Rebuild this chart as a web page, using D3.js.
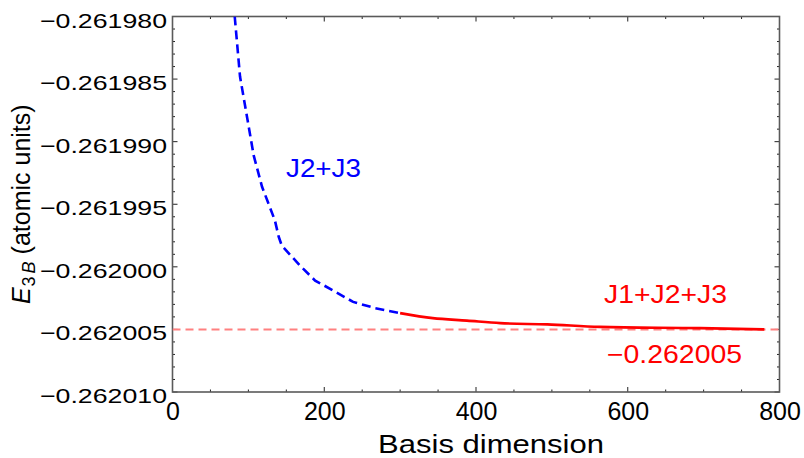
<!DOCTYPE html>
<html>
<head>
<meta charset="utf-8">
<script src="https://cdn.jsdelivr.net/npm/d3@7"></script>
<style>
  html, body { margin: 0; padding: 0; background: #fff; }
  svg { display: block; }
  text { font-family: "Liberation Sans", Arial, Helvetica, sans-serif; }
</style>
</head>
<body>
<svg id="chart" width="804" height="458"></svg>
<script>
// Convergence of the three-body energy with basis size
const j23Dim = [82, 89, 107, 118, 135, 140, 144, 168, 188, 212, 238, 267, 300];
const j23Energy = [-0.2619800, -0.2619848, -0.2619911, -0.2619936, -0.2619963, -0.2619976,
                   -0.2619983, -0.2619999, -0.2620011, -0.2620019, -0.2620028, -0.2620033, -0.2620037];
const j123Dim = [300, 343, 388, 432, 494, 563, 695, 780];
const j123Energy = [-0.2620037, -0.2620041, -0.2620043, -0.2620045, -0.2620046, -0.2620048, -0.2620049, -0.2620050];
const limitEnergy = -0.262005;
const xTicks = [0, 200, 400, 600, 800];
const yTicks = [-0.261980, -0.261985, -0.261990, -0.261995, -0.262000, -0.262005, -0.262010];

const svg = d3.select("#chart");
const plotLeft = 172.5, plotRight = 779.5, plotTop = 16.5, plotBottom = 392;

const x = d3.scaleLinear().domain([0, 800]).range([plotLeft, plotRight]);
const y = d3.scaleLinear().domain([-0.262010, -0.261980]).range([plotBottom, plotTop]);

svg.append("defs").append("clipPath").attr("id", "plotClip")
  .append("rect").attr("x", plotLeft).attr("y", plotTop)
  .attr("width", plotRight - plotLeft).attr("height", plotBottom - plotTop);

// Frame with inward ticks on all four sides
const xMinor = d3.range(0, 801, 50).filter(v => v % 200 !== 0);
const yMinor = d3.range(0, 31, 1).filter(v => v % 5 !== 0).map(k => -0.262010 + k * 1e-6);

const tickG = svg.append("g").attr("stroke", "#222").attr("stroke-width", 1);
function xTickMarks(vals, len) {
  vals.forEach(v => {
    tickG.append("line").attr("x1", x(v)).attr("x2", x(v)).attr("y1", plotBottom).attr("y2", plotBottom - len);
    tickG.append("line").attr("x1", x(v)).attr("x2", x(v)).attr("y1", plotTop).attr("y2", plotTop + len);
  });
}
function yTickMarks(vals, len) {
  vals.forEach(v => {
    tickG.append("line").attr("y1", y(v)).attr("y2", y(v)).attr("x1", plotLeft).attr("x2", plotLeft + len);
    tickG.append("line").attr("y1", y(v)).attr("y2", y(v)).attr("x1", plotRight).attr("x2", plotRight - len);
  });
}
xTickMarks(xTicks, 5);
xTickMarks(xMinor, 2.5);
yTickMarks(yTicks, 5);
yTickMarks(yMinor, 2.5);

svg.append("rect")
  .attr("x", plotLeft).attr("y", plotTop)
  .attr("width", plotRight - plotLeft).attr("height", plotBottom - plotTop)
  .attr("fill", "none").attr("stroke", "#5a5a5a").attr("stroke-width", 1.6);

// Tick labels
const xAxis = d3.axisBottom(x).tickValues(xTicks).tickSize(0).tickPadding(0);
const gx = svg.append("g").attr("transform", `translate(0,${plotBottom})`).call(xAxis);
gx.select(".domain").remove();
gx.selectAll("text")
  .attr("y", 28).attr("dy", null)
  .attr("font-size", 25).attr("fill", "#000")
  .style("font-family", '"Liberation Sans", Arial, sans-serif');

const yFmt = d3.format(".6f");
const yAxis = d3.axisLeft(y).tickValues(yTicks).tickSize(0).tickPadding(0).tickFormat(yFmt);
const gy = svg.append("g").attr("transform", `translate(${plotLeft - 5.5},0)`).call(yAxis);
gy.select(".domain").remove();
gy.selectAll("text")
  .attr("x", 0).attr("dy", null).attr("y", 10.5)
  .attr("font-size", 21).attr("fill", "#000")
  .attr("textLength", 127).attr("lengthAdjust", "spacingAndGlyphs")
  .style("font-family", '"Liberation Sans", Arial, sans-serif');

// Axis titles
svg.append("text")
  .attr("x", 491).attr("y", 453)
  .attr("text-anchor", "middle")
  .attr("font-size", 26)
  .attr("textLength", 226).attr("lengthAdjust", "spacingAndGlyphs")
  .text("Basis dimension");

const yTitle = svg.append("text")
  .attr("transform", `translate(30,${(plotTop + plotBottom) / 2}) rotate(-90)`)
  .attr("text-anchor", "middle")
  .attr("font-size", 25);
yTitle.append("tspan").attr("font-style", "italic").text("E");
yTitle.append("tspan").attr("font-size", 18).attr("dy", 5).attr("dx", 1).text("3");
yTitle.append("tspan").attr("font-size", 18).attr("font-style", "italic").attr("dx", 3).text("B");
yTitle.append("tspan").attr("dy", -5).text(" (atomic units)");

// Curves
const plot = svg.append("g").attr("clip-path", "url(#plotClip)");
const line = d3.line().x(d => x(d[0])).y(d => y(d[1]));
const smoothLine = d3.line().x(d => x(d[0])).y(d => y(d[1])).curve(d3.curveMonotoneX);

plot.append("path")
  .datum([[0, limitEnergy], [800, limitEnergy]])
  .attr("d", line)
  .attr("fill", "none")
  .attr("stroke", "#ff8080")
  .attr("stroke-width", 2)
  .attr("stroke-dasharray", "8,5");

plot.append("path")
  .datum(d3.zip(j23Dim, j23Energy))
  .attr("d", line)
  .attr("fill", "none")
  .attr("stroke", "#0000ff")
  .attr("stroke-width", 2.6)
  .attr("stroke-dasharray", "9,5");

plot.append("path")
  .datum(d3.zip(j123Dim, j123Energy))
  .attr("d", smoothLine)
  .attr("fill", "none")
  .attr("stroke", "#ff0000")
  .attr("stroke-width", 2.6);

// Curve labels
svg.append("text")
  .attr("x", 286).attr("y", 177)
  .attr("font-size", 25).attr("fill", "#0000ff")
  .attr("textLength", 75).attr("lengthAdjust", "spacingAndGlyphs")
  .text("J2+J3");

svg.append("text")
  .attr("x", 604).attr("y", 303)
  .attr("font-size", 25).attr("fill", "#ff0000")
  .attr("textLength", 123).attr("lengthAdjust", "spacingAndGlyphs")
  .text("J1+J2+J3");

svg.append("text")
  .attr("x", 607).attr("y", 363)
  .attr("font-size", 25).attr("fill", "#ff0000")
  .attr("textLength", 135).attr("lengthAdjust", "spacingAndGlyphs")
  .text(yFmt(limitEnergy));
</script>
</body>
</html>
